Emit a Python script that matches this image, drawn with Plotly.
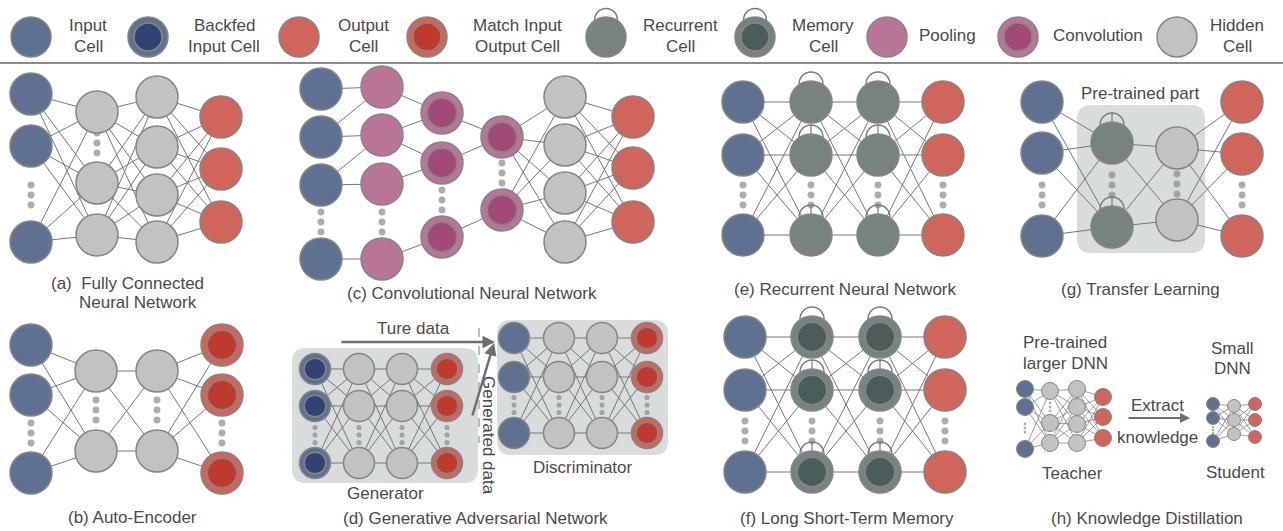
import plotly.graph_objects as go

# ---------------- data (structure of the diagram) ----------------
legend_kinds = ["input", "backfed", "output", "match", "recurrent", "memory", "pool", "conv", "hidden"]
legend_line1 = ["Input", "Backfed", "Output", "Match Input", "Recurrent", "Memory", "Pooling", "Convolution", "Hidden"]
legend_line2 = ["Cell", "Input Cell", "Cell", "Output Cell", "Cell", "Cell", "", "", "Cell"]

fc_kinds = ["input", "hidden", "hidden", "output"]
ae_kinds = ["input", "hidden", "hidden", "match"]
cnn_kinds = ["input", "pool", "conv", "conv", "hidden", "output"]
gen_kinds = ["backfed", "hidden", "hidden", "match"]
disc_kinds = ["input", "hidden", "hidden", "match"]
rnn_kinds = ["input", "recurrent", "recurrent", "output"]
lstm_kinds = ["input", "memory", "memory", "output"]
tl_kinds = ["input", "recurrent", "hidden", "output"]
teacher_kinds = ["input", "hidden", "hidden", "output"]
student_kinds = ["input", "hidden", "output"]

# sparse CNN connections (layer -> list of (from, to)); None = fully connected
cnn_edges = [[(0, 0), (1, 1), (2, 2), (3, 3), (1, 0), (2, 1)],
             [(0, 0), (1, 0), (1, 1), (2, 1), (3, 2)],
             [(0, 0), (1, 0), (2, 1)],
             None, None]

captions = ["(a)&nbsp; Fully Connected", "Neural Network", "(b) Auto-Encoder",
            "(c) Convolutional Neural Network", "(d) Generative Adversarial Network",
            "(e) Recurrent Neural Network", "(f) Long Short-Term Memory",
            "(g) Transfer Learning", "(h) Knowledge Distillation"]
inner_texts = ["Ture data", "Generator", "Discriminator", "Pre-trained part", "Pre-trained", "larger DNN",
               "Teacher", "Extract", "knowledge", "Small", "DNN", "Student"]

# ---------------- geometry / style ----------------
W, H = 1283, 531
FONT = "Liberation Sans, Arial, sans-serif"
FS = 17
FILL = {"input": "#5f7191", "backfed": "#5f7191", "output": "#cf655b", "match": "#cf655b",
        "recurrent": "#76837f", "memory": "#76837f", "pool": "#b97597", "conv": "#b97597",
        "hidden": "#c2c2c2"}
INNER = {"backfed": "#2f4470", "match": "#c0392f", "memory": "#4b5d5a", "conv": "#a24a76"}
EDGE = "#858585"
LINK = "#767676"
TXT = "#4a4a4a"

shapes = []
links = {"n": ([], []), "t": ([], [])}
dot_x, dot_y, dot_s = [], [], []


def circ(cx, cy, r, fill, lw, line=EDGE):
    shapes.append(dict(type="circle", xref="x", yref="y", x0=cx - r, x1=cx + r, y0=cy - r, y1=cy + r,
                       fillcolor=fill, line=dict(color=line, width=lw), layer="above"))


def seg(x0, y0, x1, y1, color, width, dash="solid", layer="above"):
    shapes.append(dict(type="line", xref="x", yref="y", x0=x0, y0=y0, x1=x1, y1=y1,
                       line=dict(color=color, width=width, dash=dash), layer=layer))


def cell(kind, cx, cy, r, stem=False):
    lw = 1.5 if r > 12 else 1
    if kind in ("recurrent", "memory"):
        lr = 0.57 * r
        ly = cy - r + 0.14 * r
        shapes.append(dict(type="circle", xref="x", yref="y", x0=cx - lr, x1=cx + lr, y0=ly - lr, y1=ly + lr,
                           line=dict(color="#7a7a7a", width=lw), layer="above"))
        if stem:
            seg(cx, ly - lr, cx, cy - r + 2, "#7a7a7a", 1.2)
    circ(cx, cy, r, FILL[kind], lw)
    if kind in INNER:
        circ(cx, cy, r * 0.7, INNER[kind], lw)


def dots(cx, cy, r):
    sp = r * 0.48
    for k in (-1, 0, 1):
        dot_x.append(cx)
        dot_y.append(cy + k * sp)
        dot_s.append(max(r * 0.33, 2.5))


def network(kinds, xs, rows, dots_y, r, edges=None, stems=None, thin=False):
    key = "t" if thin else "n"
    for li in range(len(kinds) - 1):
        pairs = edges[li] if (edges and edges[li] is not None) else \
            [(a, b) for a in range(len(rows[li])) for b in range(len(rows[li + 1]))]
        for a, b in pairs:
            lx, ly = links[key]
            lx += [xs[li], xs[li + 1], None]
            ly += [rows[li][a], rows[li + 1][b], None]
    for li, kind in enumerate(kinds):
        if dots_y[li] is not None:
            dots(xs[li], dots_y[li], r)
        for ri, y in enumerate(rows[li]):
            cell(kind, xs[li], y, r, stem=(stems is not None and ri >= stems))


def rrect(x0, y0, x1, y1, rad, color):
    p = (f"M {x0 + rad},{y0} L {x1 - rad},{y0} Q {x1},{y0} {x1},{y0 + rad} L {x1},{y1 - rad} "
         f"Q {x1},{y1} {x1 - rad},{y1} L {x0 + rad},{y1} Q {x0},{y1} {x0},{y1 - rad} "
         f"L {x0},{y0 + rad} Q {x0},{y0} {x0 + rad},{y0} Z")
    shapes.append(dict(type="path", path=p, xref="x", yref="y", fillcolor=color, line=dict(width=0), layer="below"))


# background boxes
rrect(292, 348, 478, 483, 14, "#d9dcdd")
rrect(497, 320, 668, 455, 14, "#d9dcdd")
rrect(1077, 105, 1205, 253, 14, "#d9dcdd")

# legend
legend_cx = [31, 148, 299, 427, 606, 755, 887, 1018, 1177]
legend_tx = [88, 224, 363, 517, 680, 823, 947, 1098, 1237]
for k, cx in zip(legend_kinds, legend_cx):
    cell(k, cx, 37, 20)
seg(0, 63, W, 63, "#8a8a8a", 2)

# (a) fully connected
network(fc_kinds, [31, 97, 157, 221], [[94, 146, 242], [112, 183, 235], [97, 147, 195, 242], [117, 169, 222]],
        [195, 143, None, None], 21)
# (b) auto-encoder
network(ae_kinds, [31, 96, 157, 222], [[345, 395, 473], [371, 451], [371, 451], [345, 395, 473]],
        [433, 410, 410, 433], 21)
# (c) CNN
network(cnn_kinds, [321, 382, 442, 502, 565, 633],
        [[89, 137, 185, 259], [87, 135, 184, 259], [113, 163, 237], [137, 210], [97, 145, 193, 242], [117, 168, 222]],
        [222, 222, 200, 173, None, None], 21, edges=cnn_edges)
# (d) GAN
network(gen_kinds, [315, 359, 402, 447], [[369, 406, 463]] * 4, [435] * 4, 15.5)
network(disc_kinds, [514, 559, 602, 647], [[338, 377, 433]] * 4, [405] * 4, 15.5)
# (e) RNN
network(rnn_kinds, [743, 811, 878, 943], [[102, 155, 235]] * 4, [195] * 4, 21, stems=1)
# (f) LSTM
network(lstm_kinds, [745, 812, 880, 945], [[337, 390, 472]] * 4, [431] * 4, 21, stems=1)
# (g) transfer learning
network(tl_kinds, [1042, 1112, 1177, 1242], [[102, 153, 236], [143, 227], [148, 220], [102, 154, 236]],
        [195, 185, 184, 195], 21, stems=0)
# (h) knowledge distillation
network(teacher_kinds, [1025, 1050, 1077, 1103],
        [[389, 407, 449], [391, 423, 443], [389, 407, 424, 443], [397, 417, 438]],
        [428, 407, None, None], 8.5, thin=True)
network(student_kinds, [1213, 1234, 1255], [[404, 418, 441], [406, 420, 434], [404, 420, 437]],
        [430, None, None], 6.5, thin=True)

# dashed divider in GAN
seg(479, 328, 479, 443, "#7a7a7a", 1, dash="dash")

fig = go.Figure()
fig.add_trace(go.Scatter(x=links["n"][0], y=links["n"][1], mode="lines",
                         line=dict(color=LINK, width=1), hoverinfo="skip"))
fig.add_trace(go.Scatter(x=links["t"][0], y=links["t"][1], mode="lines",
                         line=dict(color=LINK, width=0.7), hoverinfo="skip"))
fig.add_trace(go.Scatter(x=dot_x, y=dot_y, mode="markers",
                         marker=dict(size=dot_s, color="#8a8a8a", line=dict(width=0)), hoverinfo="skip"))

ann = []


def txt(t, x, y, size=FS, angle=0):
    ann.append(dict(text=t, x=x, y=y, xref="x", yref="y", showarrow=False, textangle=angle,
                    font=dict(family=FONT, size=size, color=TXT), xanchor="center", yanchor="middle"))


for l1, l2, tx in zip(legend_line1, legend_line2, legend_tx):
    if l2:
        txt(l1, tx, 25)
        txt(l2, tx, 46)
    else:
        txt(l1, tx, 35)

cap_pos = [(127, 283), (138, 302), (132, 517), (472, 293), (475, 518), (845, 289), (847, 518), (1140, 289),
           (1147, 518)]
for c, (x, y) in zip(captions, cap_pos):
    txt(c, x, y)

inner_pos = [(413, 328), (385, 493), (583, 467), (1140, 93), (1065, 342), (1065, 363),
             (1072, 473), (1157, 405), (1157, 437), (1232, 348), (1232, 368), (1235, 472)]
for t, (x, y) in zip(inner_texts, inner_pos):
    txt(t, x, y)
txt("Generated data", 489, 435, angle=90)


def arrow(x0, y0, x1, y1, w):
    ann.append(dict(x=x1, y=y1, ax=x0, ay=y0, xref="x", yref="y", axref="x", ayref="y", text="",
                    showarrow=True, arrowhead=2, arrowsize=1, arrowwidth=w, arrowcolor="#6e6e6e"))


arrow(340, 342, 495, 342, 2.5)
arrow(472, 417, 494, 343, 2.5)
arrow(1127, 418, 1190, 418, 2)

fig.update_layout(width=W, height=H, margin=dict(l=0, r=0, t=0, b=0), paper_bgcolor="white",
                  plot_bgcolor="white", showlegend=False, shapes=shapes, annotations=ann,
                  xaxis=dict(range=[0, W], visible=False, fixedrange=True),
                  yaxis=dict(range=[H, 0], visible=False, fixedrange=True))

fig.write_html("out.html", config={"displayModeBar": False},
               post_script="document.body.style.margin='0';")
